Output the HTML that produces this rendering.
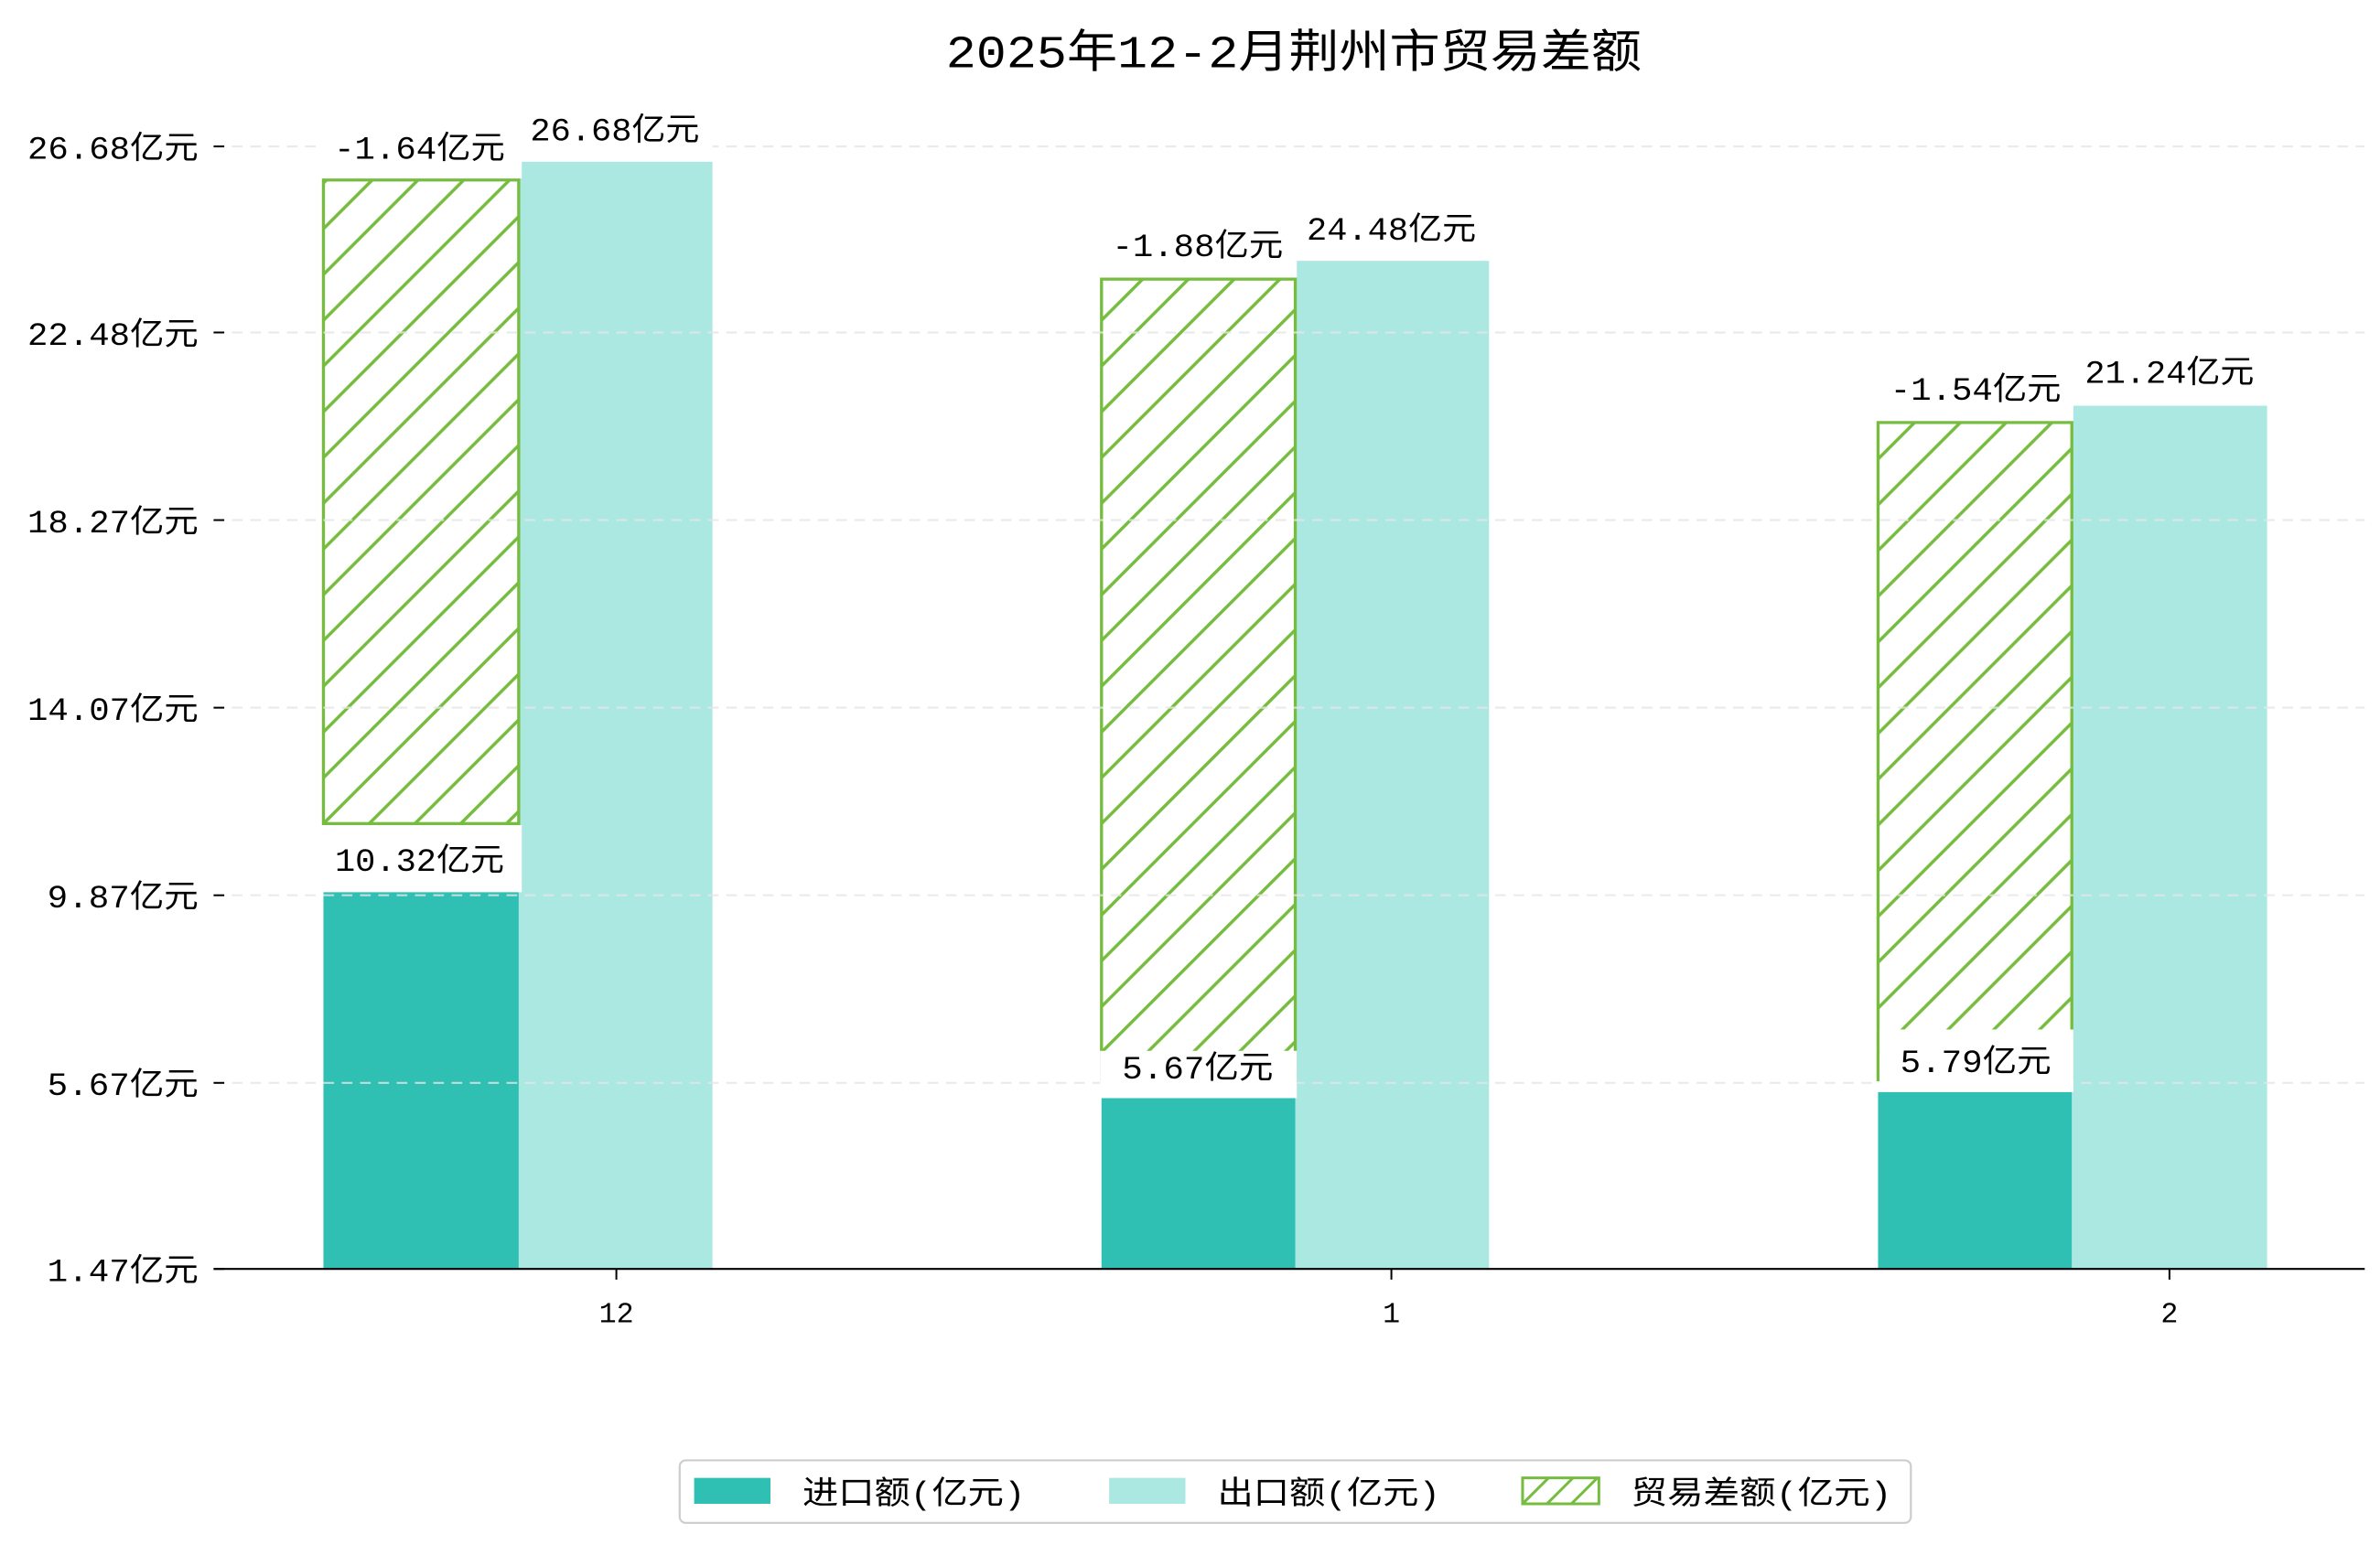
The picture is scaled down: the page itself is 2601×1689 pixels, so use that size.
<!DOCTYPE html>
<html><head><meta charset="utf-8"><style>html,body{margin:0;padding:0;background:#fff}svg{display:block}</style></head>
<body>
<svg width="2601" height="1689" viewBox="0 0 1560 1013" xmlns="http://www.w3.org/2000/svg" font-family="'Liberation Mono','Noto Sans CJK SC',sans-serif">
<defs>
<pattern id="h" patternUnits="userSpaceOnUse" width="30" height="30" patternTransform="translate(212,0)">
<path d="M-5,35 L35,-5 M-35,35 L5,-5 M25,35 L65,-5" stroke="#76BC3F" stroke-width="2.1"/>
</pattern>
</defs>
<rect width="1560" height="1013" fill="#fff"/>
<text x="848" y="44" font-size="30" text-anchor="middle" textLength="456" lengthAdjust="spacingAndGlyphs">2025年12-2月荆州市贸易差额</text>

<rect x="340" y="106" width="127" height="726" fill="#ABE8E2"/>
<rect x="849" y="171" width="127" height="661" fill="#ABE8E2"/>
<rect x="1358" y="266" width="128" height="566" fill="#ABE8E2"/>
<rect x="212" y="583" width="128" height="249" fill="#2FBFB3"/>
<rect x="722" y="720" width="127" height="112" fill="#2FBFB3"/>
<rect x="1231" y="716" width="127" height="116" fill="#2FBFB3"/>
<rect x="212" y="118" width="128" height="422" fill="url(#h)" stroke="#76BC3F" stroke-width="2"/>
<rect x="722" y="183" width="127" height="527" fill="url(#h)" stroke="#76BC3F" stroke-width="2"/>
<rect x="1231" y="277" width="127" height="431" fill="url(#h)" stroke="#76BC3F" stroke-width="2"/>

<g stroke="#e6e6e6" stroke-width="1.3" stroke-dasharray="7,5" opacity="0.8">
<line x1="140" x2="1550" y1="96" y2="96"/><line x1="140" x2="1550" y1="218" y2="218"/>
<line x1="140" x2="1550" y1="341" y2="341"/><line x1="140" x2="1550" y1="464" y2="464"/>
<line x1="140" x2="1550" y1="587" y2="587"/><line x1="140" x2="1550" y1="710" y2="710"/>
</g>

<g fill="#fff">
<rect x="211" y="78" width="131" height="39"/>
<rect x="341" y="66" width="126" height="40"/>
<rect x="721" y="143" width="129" height="39"/>
<rect x="850" y="131" width="126" height="40"/>
<rect x="1230" y="237" width="129" height="39"/>
<rect x="1359" y="226" width="127" height="40"/>
<rect x="211" y="541" width="131" height="44"/>
<rect x="721" y="689" width="129" height="31"/>
<rect x="1232" y="675" width="127" height="41"/>
</g>
<g font-size="21" text-anchor="middle">
<text x="275" y="104" textLength="112" lengthAdjust="spacingAndGlyphs">-1.64亿元</text>
<text x="403" y="92" textLength="111" lengthAdjust="spacingAndGlyphs">26.68亿元</text>
<text x="785" y="168" textLength="112" lengthAdjust="spacingAndGlyphs">-1.88亿元</text>
<text x="912" y="157" textLength="111" lengthAdjust="spacingAndGlyphs">24.48亿元</text>
<text x="1295" y="262" textLength="112" lengthAdjust="spacingAndGlyphs">-1.54亿元</text>
<text x="1422" y="251" textLength="111" lengthAdjust="spacingAndGlyphs">21.24亿元</text>
<text x="275" y="571" textLength="111" lengthAdjust="spacingAndGlyphs">10.32亿元</text>
<text x="785" y="707" textLength="99" lengthAdjust="spacingAndGlyphs">5.67亿元</text>
<text x="1295" y="703" textLength="99" lengthAdjust="spacingAndGlyphs">5.79亿元</text>
</g>

<line x1="140" x2="1550" y1="832" y2="832" stroke="#000" stroke-width="1.3"/>
<g stroke="#000" stroke-width="1.2">
<line x1="140" x2="147" y1="96" y2="96"/><line x1="140" x2="147" y1="218" y2="218"/>
<line x1="140" x2="147" y1="341" y2="341"/><line x1="140" x2="147" y1="464" y2="464"/>
<line x1="140" x2="147" y1="587" y2="587"/><line x1="140" x2="147" y1="710" y2="710"/>
<line x1="140" x2="147" y1="832" y2="832"/>
<line x1="404" x2="404" y1="832" y2="839"/><line x1="912" x2="912" y1="832" y2="839"/><line x1="1422" x2="1422" y1="832" y2="839"/>
</g>
<g font-size="21" text-anchor="end">
<text x="130" y="104" textLength="112" lengthAdjust="spacingAndGlyphs">26.68亿元</text>
<text x="130" y="226" textLength="112" lengthAdjust="spacingAndGlyphs">22.48亿元</text>
<text x="130" y="349" textLength="112" lengthAdjust="spacingAndGlyphs">18.27亿元</text>
<text x="130" y="472" textLength="112" lengthAdjust="spacingAndGlyphs">14.07亿元</text>
<text x="130" y="595" textLength="99" lengthAdjust="spacingAndGlyphs">9.87亿元</text>
<text x="130" y="718" textLength="99" lengthAdjust="spacingAndGlyphs">5.67亿元</text>
<text x="130" y="840" textLength="99" lengthAdjust="spacingAndGlyphs">1.47亿元</text>
</g>
<g font-size="19" text-anchor="middle">
<text x="404" y="867">12</text><text x="912" y="867">1</text><text x="1422" y="867">2</text>
</g>

<rect x="445.5" y="957.5" width="807" height="41" rx="4" fill="#fff" stroke="#cccccc" stroke-width="1.3"/>
<rect x="455" y="969" width="50" height="17" fill="#2FBFB3"/>
<rect x="727" y="969" width="50" height="17" fill="#ABE8E2"/>
<rect x="998" y="969" width="50" height="17" fill="#fff" stroke="#76BC3F" stroke-width="1.8"/>
<path d="M998,986 L1015,969 M1014,986 L1031,969 M1030,986 L1047,969" stroke="#76BC3F" stroke-width="1.8"/>
<g font-size="21">
<text x="526" y="986" textLength="146" lengthAdjust="spacingAndGlyphs">进口额(亿元)</text>
<text x="798" y="986" textLength="146" lengthAdjust="spacingAndGlyphs">出口额(亿元)</text>
<text x="1069" y="986" textLength="171" lengthAdjust="spacingAndGlyphs">贸易差额(亿元)</text>
</g>
</svg>
</body></html>
